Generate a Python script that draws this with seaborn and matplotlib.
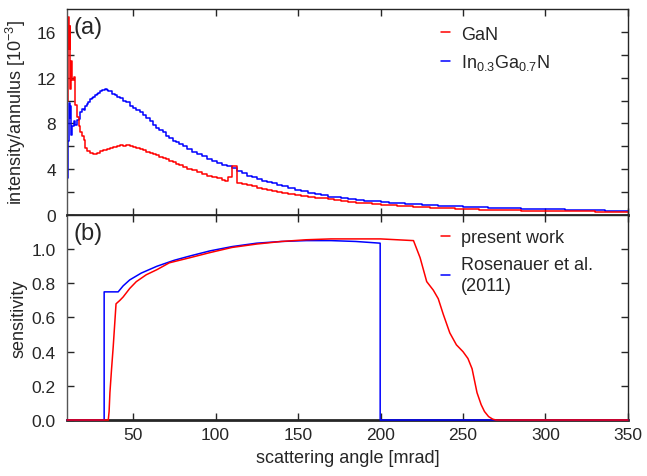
import pandas as pd
import numpy as np
import matplotlib
matplotlib.use('Agg')
import matplotlib.pyplot as plt
import seaborn as sns

# Data (a): intensity per annulus, step histogram (left bin edges in mrad)
ang_gan = [10, 10.5, 11, 11.5, 12, 12.5, 13, 14, 15, 16, 17, 18, 19, 20, 21, 22, 24, 26, 28, 30,
           32, 34, 36, 38, 40, 42, 44, 46, 48, 50, 52, 54, 56, 58, 60, 62, 64, 66, 68, 70,
           72, 74, 76, 78, 80, 83, 86, 89, 92, 95, 98, 101, 104, 106, 107.5, 110, 113, 116, 119, 122,
           125, 128, 131, 134, 137, 140, 144, 148, 152, 156, 160, 164, 168, 172, 176, 180, 185, 190, 195, 200,
           205, 210, 215, 220, 225, 230, 235, 240, 245, 250, 255, 260, 265, 270, 275, 280, 285, 290, 295, 300,
           306, 312, 318, 324, 330, 336, 342, 350]
int_gan = [10.0, 17.3, 14.5, 16.5, 11.0, 13.5, 11.8, 12.1, 9.6, 8.6, 7.8, 7.3, 6.9, 6.6, 5.9, 5.6, 5.4, 5.3, 5.4, 5.6,
           5.7, 5.8, 5.9, 5.95, 6.0, 6.1, 6.05, 6.15, 6.05, 5.95, 5.85, 5.8, 5.65, 5.55, 5.45, 5.35, 5.25, 5.1, 5.0, 4.9,
           4.75, 4.6, 4.5, 4.35, 4.2, 4.05, 3.9, 3.75, 3.55, 3.4, 3.3, 3.2, 3.05, 2.95, 3.35, 4.3, 2.8, 2.7, 2.6, 2.5,
           2.4, 2.3, 2.2, 2.1, 2.0, 1.95, 1.85, 1.75, 1.68, 1.6, 1.52, 1.45, 1.38, 1.3, 1.22, 1.16, 1.09, 1.02, 0.96, 0.9,
           0.85, 0.8, 0.76, 0.72, 0.68, 0.64, 0.61, 0.58, 0.55, 0.52, 0.5, 0.48, 0.46, 0.44, 0.42, 0.41, 0.4, 0.39, 0.38, 0.37,
           0.35, 0.34, 0.33, 0.32, 0.31, 0.3, 0.29, 0.29]

ang_ingan = [10, 10.5, 11, 11.5, 12, 12.5, 13, 14, 15, 16, 17, 18, 19, 20, 21, 22, 23, 24, 25, 26,
             27, 28, 29, 30, 31, 32, 33, 34, 35, 36, 37, 38, 39, 40, 42, 44, 46, 48, 50, 52,
             54, 56, 58, 60, 62, 64, 66, 68, 70, 72, 74, 76, 78, 80, 83, 86, 89, 92, 95, 98,
             101, 104, 107, 110, 113, 116, 119, 122, 125, 128, 131, 134, 137, 140, 144, 148, 152, 156, 160, 164,
             168, 172, 176, 180, 185, 190, 195, 200, 205, 210, 215, 220, 225, 230, 235, 240, 245, 250, 255, 260,
             265, 270, 275, 280, 285, 290, 295, 300, 306, 312, 318, 324, 330, 336, 342, 350]
int_ingan = [3.2, 6.5, 9.8, 8.5, 9.5, 7.0, 7.8, 8.2, 7.9, 8.3, 8.4, 9.0, 9.3, 9.2, 9.5, 9.7, 9.9, 10.1, 10.2, 10.3,
             10.5, 10.6, 10.7, 10.8, 10.9, 10.95, 11.0, 10.9, 10.85, 10.8, 10.6, 10.55, 10.5, 10.3, 10.2, 10.0, 9.9, 9.5, 9.35, 9.2,
             9.0, 8.75, 8.5, 8.2, 7.9, 7.65, 7.45, 7.25, 6.95, 6.7, 6.5, 6.35, 6.2, 6.0, 5.75, 5.55, 5.35, 5.15, 4.9, 4.75,
             4.55, 4.4, 4.25, 4.1, 3.85, 3.65, 3.45, 3.3, 3.15, 3.0, 2.88, 2.76, 2.65, 2.52, 2.38, 2.22, 2.08, 1.95, 1.82, 1.72,
             1.62, 1.54, 1.46, 1.4, 1.32, 1.26, 1.2, 1.14, 1.09, 1.04, 0.99, 0.95, 0.9, 0.86, 0.82, 0.79, 0.76, 0.73, 0.7, 0.67,
             0.65, 0.63, 0.61, 0.59, 0.57, 0.55, 0.53, 0.51, 0.49, 0.47, 0.45, 0.43, 0.41, 0.4, 0.38, 0.38]

# Data (b): detector sensitivity
ang_present = [10, 35, 35.5, 36, 37, 38, 39.7, 42, 44, 48, 52, 58, 64.5, 72, 84.5, 96.7, 110, 125, 140, 155,
               170, 185, 200, 210, 220, 224, 228, 232, 235, 238, 242, 246, 250, 253, 255.5, 258.5, 261, 263, 265.5, 268,
               270, 350]
sens_present = [0, 0, 0.05, 0.16, 0.3, 0.43, 0.68, 0.7, 0.72, 0.77, 0.81, 0.85, 0.88, 0.92, 0.95, 0.98, 1.01, 1.03, 1.045, 1.055,
                1.06, 1.06, 1.06, 1.055, 1.05, 0.95, 0.81, 0.76, 0.71, 0.62, 0.51, 0.44, 0.40, 0.36, 0.30, 0.16, 0.09, 0.05, 0.02, 0.005,
                0, 0]
ang_rosen = [10, 32.5, 32.5, 41, 44, 48, 55, 64.5, 75, 84.5, 96.7, 110, 125, 140, 155, 170, 185, 199.8, 199.8, 350]
sens_rosen = [0, 0, 0.75, 0.75, 0.785, 0.82, 0.86, 0.9, 0.935, 0.96, 0.99, 1.015, 1.035, 1.045, 1.05, 1.05, 1.045, 1.035, 0, 0]

sns.set_style('ticks')
plt.rcParams['font.family'] = ['Liberation Sans', 'DejaVu Sans']
plt.rcParams['mathtext.fontset'] = 'custom'
plt.rcParams['mathtext.rm'] = 'Liberation Sans'
plt.rcParams['mathtext.it'] = 'Liberation Sans'
plt.rcParams['font.size'] = 12.5

df_a1 = pd.DataFrame({'angle': ang_gan, 'intensity': int_gan})
df_a2 = pd.DataFrame({'angle': ang_ingan, 'intensity': int_ingan})
df_b1 = pd.DataFrame({'angle': ang_present, 'sensitivity': sens_present})
df_b2 = pd.DataFrame({'angle': ang_rosen, 'sensitivity': sens_rosen})

fig = plt.figure(figsize=(6.47, 4.77), dpi=100)
ax1 = fig.add_axes([0.1036, 0.547, 0.867, 0.432])
ax2 = fig.add_axes([0.1036, 0.1174, 0.867, 0.4298])

sns.lineplot(data=df_a2, x='angle', y='intensity', ax=ax1, color='#0000ff', lw=1.1,
             drawstyle='steps-post', sort=False, estimator=None, label='$\\mathregular{In_{0.3}Ga_{0.7}N}$')
sns.lineplot(data=df_a1, x='angle', y='intensity', ax=ax1, color='#ff0000', lw=1.1,
             drawstyle='steps-post', sort=False, estimator=None, label='GaN')

sns.lineplot(data=df_b2, x='angle', y='sensitivity', ax=ax2, color='#0000ff', lw=1.1,
             sort=False, estimator=None, label='Rosenauer et al.\n(2011)', clip_on=False, zorder=3)
sns.lineplot(data=df_b1, x='angle', y='sensitivity', ax=ax2, color='#ff0000', lw=1.1,
             sort=False, estimator=None, label='present work', clip_on=False, zorder=3)

for ax in (ax1, ax2):
    ax.set_xlim(10, 350)
    ax.set_xticks([50, 100, 150, 200, 250, 300, 350])
    ax.tick_params(direction='in', top=True, right=True, length=5, width=1, labelsize=12.5)
    ax.tick_params(axis='y', pad=8)
    ax.tick_params(axis='x', pad=5)
    for s in ax.spines.values():
        s.set_linewidth(1.0)
    ax.spines['bottom'].set_linewidth(2.0)
    ax.spines['left'].set_color('#555555')

ax1.set_ylim(0, 18)
ax1.set_yticks(np.arange(0, 18, 2))
ax1.set_yticklabels(['0', '', '4', '', '8', '', '12', '', '16'])
ax1.set_xticklabels([])
ax1.set_xlabel('')
ax1.set_ylabel('intensity/annulus [10$^{\\mathregular{-3}}$]', fontsize=13)
ax1.yaxis.set_label_coords(-0.07, 0.5)
ax1.text(0.012, 0.965, '(a)', transform=ax1.transAxes, fontsize=17, va='top', ha='left')
h, l = ax1.get_legend_handles_labels()
ax1.legend(h[::-1], l[::-1], loc='upper left', frameon=False, handlelength=0.5,
           handletextpad=0.6, fontsize=13, bbox_to_anchor=(0.667, 0.92), labelspacing=0.55,
           borderaxespad=0, borderpad=0)

ax2.set_ylim(0, 1.2)
ax2.set_yticks([0, 0.2, 0.4, 0.6, 0.8, 1.0])
ax2.set_yticklabels(['0.0', '0.2', '0.4', '0.6', '0.8', '1.0'])
ax2.set_xlabel('scattering angle [mrad]', fontsize=13, labelpad=5)
ax2.set_ylabel('sensitivity', fontsize=13)
ax2.yaxis.set_label_coords(-0.07, 0.5)
ax2.text(0.012, 0.965, '(b)', transform=ax2.transAxes, fontsize=17, va='top', ha='left')
h, l = ax2.get_legend_handles_labels()
leg = ax2.legend(h[::-1], l[::-1], loc='upper left', frameon=False, handlelength=0.5,
                 handletextpad=0.6, fontsize=13, bbox_to_anchor=(0.667, 0.93), labelspacing=0.55,
                 borderaxespad=0, borderpad=0)
for t in leg.get_texts():
    t.set_linespacing(1.3)

fig.savefig('out.png', dpi=100)
